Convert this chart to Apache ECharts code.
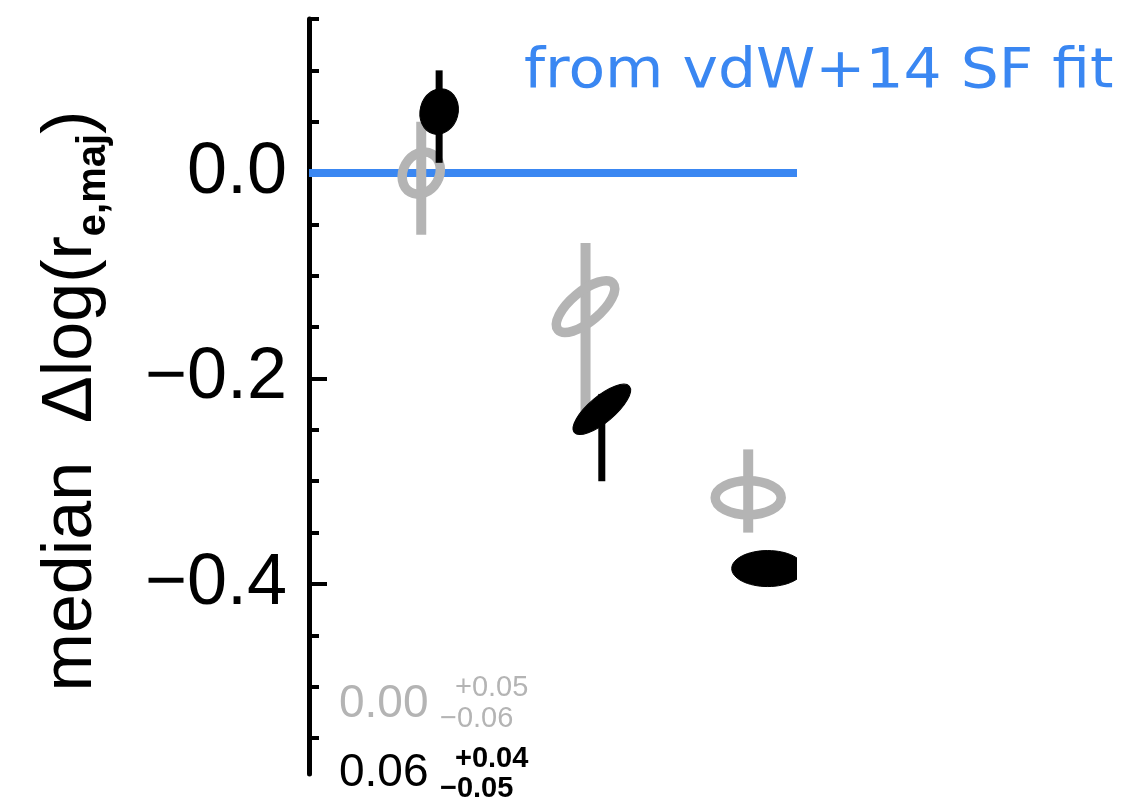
<!DOCTYPE html>
<html>
<head>
<meta charset="utf-8">
<title>median size offset</title>
<script src="https://cdn.jsdelivr.net/npm/echarts@6/dist/echarts.min.js"></script>
<style>
  html, body { margin: 0; padding: 0; background: #ffffff; }
  #chart { width: 1133px; height: 805px; }
</style>
</head>
<body>
<div id="chart"></div>
<script>
// Median offsets from the star-forming size relation, per bin.
// Grey: first sample, black: second sample (x = bin position).
const greyX = [0.69, 1.70, 2.70];
const greyMedian = [0.00, -0.13, -0.316];
const greyErrUp = [0.05, 0.062, 0.047];
const greyErrDown = [0.06, 0.105, 0.034];

const blackX = [0.80, 1.80, 2.82];
const blackMedian = [0.06, -0.23, -0.385];
const blackErrUp = [0.04, 0.015, 0.01];
const blackErrDown = [0.05, 0.07, 0.01];

// Reference relation (zero offset)
const refLineX = [0, 3];
const refLineY = [0, 0];

const majorTicks = [0, -0.2, -0.4];
const minorTicks = [0.15, 0.10, 0.05, -0.05, -0.10, -0.15, -0.25, -0.30, -0.35, -0.45, -0.50, -0.55];

// Marker ellipse geometry (semi-axes in px, tilt in degrees, counter-clockwise)
const greyShapes = [
  { rx: 22, ry: 18, tilt: 60 },
  { rx: 36, ry: 15, tilt: 40 },
  { rx: 33, ry: 17, tilt: 0 }
];
const blackShapes = [
  { rx: 23, ry: 19, tilt: 75 },
  { rx: 36, ry: 13, tilt: 40 },
  { rx: 36, ry: 18, tilt: 0 }
];

const GREY = '#b4b4b4';
const BLACK = '#000000';
const BLUE = '#3a87f2';

function toRows(xs, ys, ups, downs) {
  return xs.map((x, i) => [x, ys[i], ups[i], downs[i]]);
}

function makeRenderer(shapes, color, filled, barWidth) {
  return function (params, api) {
    const x = api.value(0), y = api.value(1);
    const up = api.value(2), dn = api.value(3);
    const c = api.coord([x, y]);
    const top = api.coord([x, y + up]);
    const bot = api.coord([x, y - dn]);
    const s = shapes[params.dataIndex];
    return {
      type: 'group',
      children: [
        {
          type: 'line',
          shape: { x1: c[0], y1: top[1], x2: c[0], y2: bot[1] },
          style: { stroke: color, lineWidth: barWidth, lineCap: 'butt' }
        },
        {
          type: 'ellipse',
          x: c[0], y: c[1],
          rotation: s.tilt * Math.PI / 180,
          shape: { cx: 0, cy: 0, rx: s.rx, ry: s.ry },
          style: filled
            ? { fill: color, stroke: color, lineWidth: 1 }
            : { fill: 'none', stroke: color, lineWidth: 9.5 }
        }
      ]
    };
  };
}

function fmt(v) {
  return (v < 0 ? '\u2212' : '') + Math.abs(v).toFixed(2);
}

const chart = echarts.init(document.getElementById('chart'));

const labelFont = 'Liberation Sans, Arial, Helvetica, sans-serif';

chart.setOption({
  backgroundColor: '#ffffff',
  animation: false,
  grid: { left: 309, top: 19, width: 488, height: 755 },
  xAxis: {
    type: 'value', min: 0, max: 3, show: false
  },
  yAxis: [
    {
      type: 'value', min: -0.585, max: 0.15, position: 'left',
      axisLine: { show: true, lineStyle: { color: BLACK, width: 5 } },
      axisTick: { show: true, inside: true, length: 18, customValues: majorTicks,
                  lineStyle: { color: BLACK, width: 4 } },
      axisLabel: {
        show: true, customValues: majorTicks, margin: 22,
        fontFamily: labelFont, fontSize: 72, color: BLACK,
        padding: [8, 0, 0, 0],
        formatter: v => (v < 0 ? '\u2212' : '') + Math.abs(v).toFixed(1)
      },
      splitLine: { show: false }
    },
    {
      type: 'value', min: -0.585, max: 0.15, position: 'left',
      axisLine: { show: false },
      axisTick: { show: true, inside: true, length: 10, customValues: minorTicks,
                  lineStyle: { color: BLACK, width: 4 } },
      axisLabel: { show: false },
      splitLine: { show: false }
    }
  ],
  graphic: [
    {
      type: 'text', x: 72, y: 401, rotation: Math.PI / 2,
      style: {
        text: 'median  \u0394log(r{sub|e,maj})',
        fontFamily: labelFont, fontSize: 70, fill: BLACK,
        align: 'center', verticalAlign: 'middle',
        lineHeight: 84,
        rich: {
          sub: { fontFamily: labelFont, fontSize: 40, fontWeight: 'bold', lineHeight: 30,
                 verticalAlign: 'bottom', fill: BLACK }
        }
      }
    },
    {
      type: 'text', x: 524, y: 72, scaleX: 1.07,
      style: {
        text: 'from vdW+14 SF fit',
        fontFamily: 'DejaVu Sans, sans-serif', fontSize: 56, fill: BLUE,
        align: 'left', verticalAlign: 'middle'
      }
    },
    // Median values with asymmetric uncertainties for the first bin
    { type: 'text', x: 339, y: 704, style: { text: greyMedian[0].toFixed(2), fontFamily: labelFont, fontSize: 46, fill: GREY, align: 'left', verticalAlign: 'middle' } },
    { type: 'text', x: 455, y: 688, style: { text: '+' + greyErrUp[0].toFixed(2), fontFamily: labelFont, fontSize: 29, fill: GREY, align: 'left', verticalAlign: 'middle' } },
    { type: 'text', x: 440, y: 719, style: { text: fmt(-greyErrDown[0]), fontFamily: labelFont, fontSize: 29, fill: GREY, align: 'left', verticalAlign: 'middle' } },
    { type: 'text', x: 339, y: 773, style: { text: blackMedian[0].toFixed(2), fontFamily: labelFont, fontSize: 46, fill: BLACK, align: 'left', verticalAlign: 'middle' } },
    { type: 'text', x: 455, y: 759, style: { text: '+' + blackErrUp[0].toFixed(2), fontFamily: labelFont, fontSize: 29, fontWeight: 'bold', fill: BLACK, align: 'left', verticalAlign: 'middle' } },
    { type: 'text', x: 440, y: 789, style: { text: fmt(-blackErrDown[0]), fontFamily: labelFont, fontSize: 29, fontWeight: 'bold', fill: BLACK, align: 'left', verticalAlign: 'middle' } }
  ],
  series: [
    {
      type: 'line',
      data: refLineX.map((x, i) => [x, refLineY[i]]),
      symbol: 'none',
      lineStyle: { color: BLUE, width: 8 },
      z: 1, silent: true
    },
    {
      type: 'custom',
      renderItem: makeRenderer(greyShapes, GREY, false, 10),
      data: toRows(greyX, greyMedian, greyErrUp, greyErrDown),
      clip: true, z: 2, silent: true
    },
    {
      type: 'custom',
      renderItem: makeRenderer(blackShapes, BLACK, true, 7),
      data: toRows(blackX, blackMedian, blackErrUp, blackErrDown),
      clip: true, z: 3, silent: true
    }
  ]
});
</script>
</body>
</html>
